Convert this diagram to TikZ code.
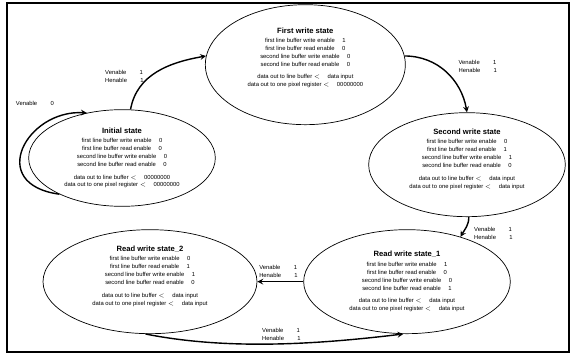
\documentclass[tikz,border=0pt]{standalone}
\usepackage{fontspec}
\setmainfont{Liberation Sans}
\usepackage{tikz}
\usetikzlibrary{shapes.geometric}
\tikzstyle{state} = [ellipse, draw=black, semithick, align=center, inner sep=0pt, font=\fontsize{5}{6.8}\selectfont]
\tikzstyle{trans} = [align=left, inner sep=0pt, font=\fontsize{5}{7}\selectfont]
\tikzstyle{arrow} = [very thick,->,>=stealth]
\newcommand{\stname}[1]{{\fontsize{6.5}{8}\selectfont\bfseries #1}\\[1pt]}

\begin{document}
\begin{tikzpicture}[node distance=1cm]
\useasboundingbox (0,0) rectangle (17.19,-10.68);
\draw [line width=0.9pt] (0.21,-0.09) rectangle (17.07,-10.56);

\node (init) [state, minimum width=5.6cm, minimum height=2.9cm] at (3.66,-4.74) {\stname{Initial state}first line buffer write enable \quad 0\\ first line buffer read enable \quad 0\\ second line buffer write enable \quad 0\\ second line buffer read enable \quad 0\\[4pt] data out to line buffer $<$ \quad 00000000\\ data out to one pixel register $<$ \quad 00000000};

\node (first) [state, above of=init, xshift=5.5cm, yshift=1.8cm, minimum width=6.0cm, minimum height=3.6cm] {\stname{First write state}first line buffer write enable \quad 1\\ first line buffer read enable \quad 0\\ second line buffer write enable \quad 0\\ second line buffer read enable \quad 0\\[4pt] data out to line buffer $<$ \quad data input\\ data out to one pixel register $<$ \quad 00000000\\[6pt]};

\node (second) [state, right of=first, xshift=3.85cm, yshift=-3.0cm, minimum width=5.9cm, minimum height=3.12cm] {\stname{Second write state}first line buffer write enable \quad 0\\ first line buffer read enable \quad 1\\ second line buffer write enable \quad 1\\ second line buffer read enable \quad 0\\[4pt] data out to line buffer $<$ \quad data input\\ data out to one pixel register $<$ \quad data input\\[3pt]};

\node (read1) [state, below of=second, xshift=-1.8cm, yshift=-2.51cm, minimum width=6.2cm, minimum height=3.12cm] {\stname{Read write state\_1}first line buffer write enable \quad 1\\ first line buffer read enable \quad 0\\ second line buffer write enable \quad 0\\ second line buffer read enable \quad 1\\[4pt] data out to line buffer $<$ \quad data input\\ data out to one pixel register $<$ \quad data input};

\node (read2) [state, left of=read1, xshift=-6.71cm, minimum width=6.42cm, minimum height=3.12cm] {\stname{Read write state\_2}first line buffer write enable \quad 0\\ first line buffer read enable \quad 1\\ second line buffer write enable \quad 1\\ second line buffer read enable \quad 0\\[4pt] data out to line buffer $<$ \quad data input\\ data out to one pixel register $<$ \quad data input\\[3pt]};

% transition labels
\node (loopl) [trans, anchor=west, xshift=-2.13cm, yshift=0.27cm] at (init.128) {Venable \qquad 0};
\node (startl) [trans, anchor=west, xshift=-0.51cm, yshift=0.98cm] at (init.north) {Venable \qquad 1\\ Henable \qquad 1};
\node (firstl) [trans, anchor=west, xshift=1.58cm, yshift=-0.06cm] at (first.east) {Venable \qquad 1\\ Henable \qquad 1};
\node (secondl) [trans, anchor=west, xshift=0.21cm, yshift=-0.48cm] at (second.south) {Venable \qquad 1\\ Henable \qquad 1};
\node (readl) [trans, anchor=west, xshift=0.05cm, yshift=0.3cm] at (read2.east) {Venable \qquad 1\\ Henable \qquad 1};
\node (backl) [trans, anchor=west, xshift=3.36cm, yshift=0.0cm] at (read2.south) {Venable \qquad 1\\ Henable \qquad 1};

\draw [arrow] (init.210) .. controls +(-2.2,0.3) and +(-1.8,0.1) .. (init.128);
\draw [arrow] (init.80) to[out=80, in=190] (first.175);
\draw [arrow] (first.5) to[out=0, in=100] (second.north);
\draw [arrow] (second.-88) to[out=-90, in=60] (read1.40);
\draw [arrow] (read1.west) -- (read2.east);
\draw [arrow] (read2.265) .. controls +(2.5,-0.5) and +(-2.5,-0.3) .. (read1.266);

\end{tikzpicture}
\end{document}
